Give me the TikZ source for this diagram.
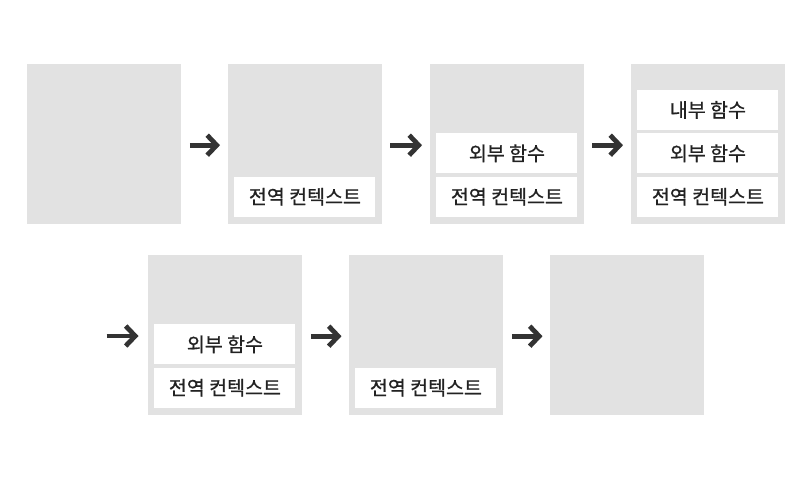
\documentclass[tikz,border=0pt]{standalone}
\usepackage{fontspec}
\setmainfont{Noto Sans CJK KR}[FakeBold=0.8]
\usetikzlibrary{arrows.meta}
\definecolor{boxgray}{HTML}{E2E2E2}
\definecolor{arrowdark}{HTML}{333333}
\definecolor{txt}{HTML}{222222}
\tikzset{
  panel/.style={fill=boxgray, draw=none, minimum width=153.5pt, minimum height=160pt, anchor=north west, inner sep=0pt},
  lbl/.style={fill=white, draw=none, minimum width=141pt, minimum height=40pt, inner sep=0pt, font=\fontsize{19.5}{21}\selectfont, text=txt},
  flow/.style={draw=arrowdark, line width=4.8pt, -{Straight Barb[length=9.5pt,width=20pt,line width=4.8pt]}},
}
\begin{document}
\begin{tikzpicture}[x=1pt,y=-1pt]
\useasboundingbox (0,0) rectangle (811,480);
% row 1
\node[panel] (p1) at (27,64) {};
\node[panel] (p2) at (228,64) {};
\node[panel] (p3) at (430,64) {};
\node[panel] (p4) at (631,64) {};
% row 2
\node[panel] (p5) at (148,255) {};
\node[panel] (p6) at (349,255) {};
\node[panel] (p7) at (550,255) {};
% labels
\node[lbl, anchor=south] (p2g) at ([yshift=7.5pt]p2.south) {전역 컨텍스트};
\node[lbl, anchor=south] (p3g) at ([yshift=7.5pt]p3.south) {전역 컨텍스트};
\node[lbl, anchor=south] (p3o) at ([yshift=3pt]p3g.north) {외부 함수};
\node[lbl, anchor=south] (p4g) at ([yshift=7.5pt]p4.south) {전역 컨텍스트};
\node[lbl, anchor=south] (p4o) at ([yshift=3pt]p4g.north) {외부 함수};
\node[lbl, anchor=south] (p4i) at ([yshift=3pt]p4o.north) {내부 함수};
\node[lbl, anchor=south] (p5g) at ([yshift=7.5pt]p5.south) {전역 컨텍스트};
\node[lbl, anchor=south] (p5o) at ([yshift=3pt]p5g.north) {외부 함수};
\node[lbl, anchor=south] (p6g) at ([yshift=7.5pt]p6.south) {전역 컨텍스트};
% arrows
\coordinate (s5) at (106.5,336);
\draw[flow, shorten <=9pt, shorten >=8pt] ([yshift=-1pt]p1.east) -- ([yshift=-1pt]p2.west);
\draw[flow, shorten <=8.5pt, shorten >=8pt] ([yshift=-1pt]p2.east) -- ([yshift=-1pt]p3.west);
\draw[flow, shorten <=8.5pt, shorten >=8pt] ([yshift=-1pt]p3.east) -- ([yshift=-1pt]p4.west);
\draw[flow, shorten >=9.5pt] (s5) -- (s5 -| p5.west);
\draw[flow, shorten <=9pt, shorten >=7.5pt] ([yshift=-1pt]p5.east) -- ([yshift=-1pt]p6.west);
\draw[flow, shorten <=9pt, shorten >=7.5pt] ([yshift=-1pt]p6.east) -- ([yshift=-1pt]p7.west);
\end{tikzpicture}
\end{document}
